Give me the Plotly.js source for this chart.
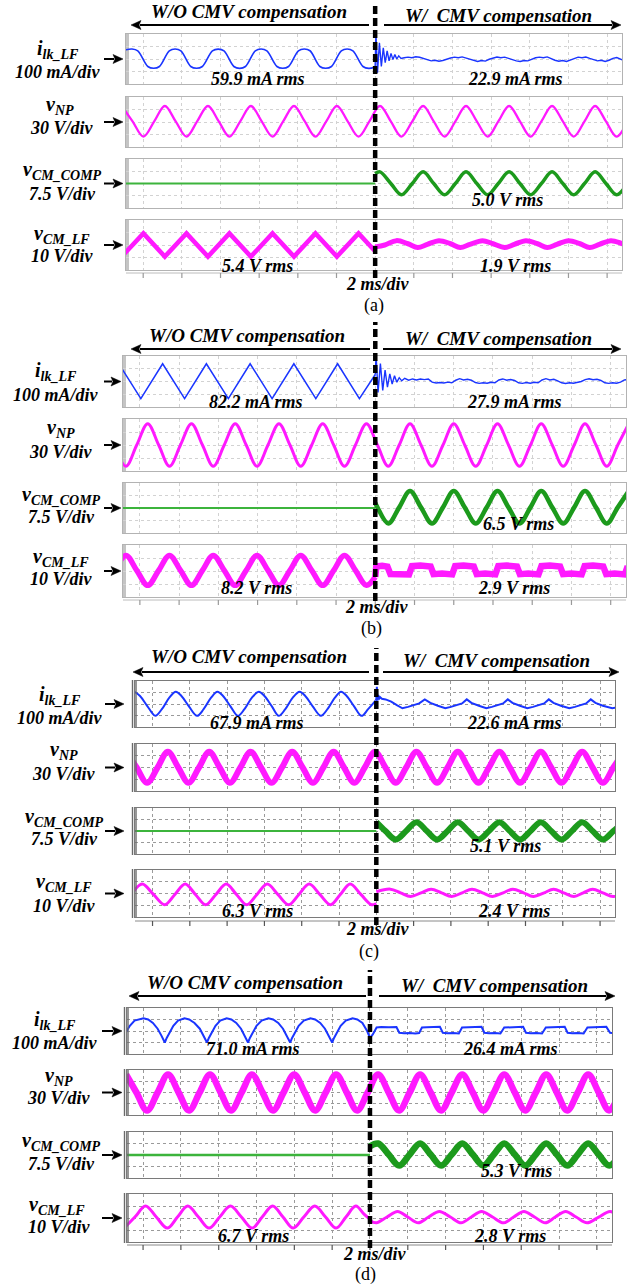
<!DOCTYPE html>
<html><head><meta charset="utf-8">
<script src="https://cdn.plot.ly/plotly-3.0.1.min.js"></script>
<style>html,body{margin:0;padding:0;background:#fff}#chart{width:642px;height:1288px}</style>
</head><body><div id="chart"></div>
<script>
// ---------------- DATA (time in ms, value in divisions) ----------------
// Panel (a)
const A1L = [[-1.0,0.7],[-0.58,0.8],[-0.28,0.65],[0.24,-0.6],[0.54,-0.74],[0.84,-0.6],[1.35,0.65],[1.65,0.8],[1.95,0.65],[2.46,-0.6],[2.76,-0.74],[3.06,-0.6],[3.58,0.65],[3.88,0.79],[4.18,0.65],[4.69,-0.6],[4.99,-0.75],[5.29,-0.6],[5.80,0.65],[6.10,0.8],[6.40,0.65],[6.92,-0.6],[7.22,-0.74],[7.52,-0.6],[8.03,0.65],[8.33,0.8],[8.63,0.66],[9.14,-0.6],[9.44,-0.74],[9.74,-0.6],[10.25,0.65],[10.55,0.8],[10.85,0.65],[11.37,-0.6],[11.67,-0.75],[11.97,-0.65]];
const A1R = [[11.97,-0.65],[12.0,-0.6],[12.04,2.1],[12.12,-1.1],[12.22,1.3],[12.32,-0.6],[12.42,0.9],[12.52,-0.3],[12.62,0.65],[12.72,-0.15],[12.82,0.45],[12.92,-0.05],[13.02,0.35],[13.12,0.0],[13.22,0.25],[13.34,0.05],[13.5,0.1],[13.7,0.15],[13.9,0.1],[14.1,0.18],[14.3,0.14],[14.5,0.05],[14.7,-0.05],[14.9,-0.15],[15.1,-0.1],[15.3,-0.18],[15.5,-0.12],[15.7,0.0],[15.9,0.08],[16.1,0.15],[16.3,0.1],[16.5,0.17],[16.7,0.08],[16.9,-0.05],[17.1,-0.12],[17.3,-0.2],[17.5,-0.12],[17.7,-0.17],[17.9,-0.02],[18.1,0.08],[18.3,0.16],[18.5,0.1],[18.7,0.15],[18.9,0.05],[19.1,-0.08],[19.3,-0.15],[19.5,-0.2],[19.7,-0.12],[19.9,-0.15],[20.1,0.0],[20.3,0.1],[20.5,0.15],[20.7,0.1],[20.9,0.17],[21.1,0.02],[21.3,-0.1],[21.5,-0.18],[21.7,-0.12],[21.9,-0.2],[22.1,-0.08],[22.3,0.08],[22.5,0.15],[22.7,0.1],[22.9,0.16],[23.1,0.05],[23.3,-0.08],[23.5,-0.15],[23.7,-0.1],[23.9,-0.2],[24.1,-0.1],[24.3,0.05],[24.5,0.12],[24.7,-0.05],[24.9,-0.15]];
const A2 = [[-1.11,1.28],[-0.55,0.05],[0.01,-1.17],[0.57,0.05],[1.12,1.28],[1.68,0.05],[2.24,-1.17],[2.79,0.05],[3.35,1.28],[3.91,0.05],[4.46,-1.17],[5.02,0.05],[5.57,1.28],[6.13,0.05],[6.69,-1.17],[7.24,0.05],[7.80,1.28],[8.36,0.05],[8.91,-1.17],[9.47,0.05],[10.02,1.28],[10.58,0.05],[11.14,-1.17],[11.70,0.05],[12.25,1.28],[12.81,0.05],[13.36,-1.17],[13.92,0.05],[14.48,1.28],[15.03,0.05],[15.59,-1.17],[16.15,0.05],[16.70,1.28],[17.26,0.05],[17.82,-1.17],[18.37,0.05],[18.93,1.28],[19.49,0.05],[20.04,-1.17],[20.60,0.05],[21.15,1.28],[21.71,0.05],[22.27,-1.17],[22.83,0.05],[23.38,1.28],[23.94,0.05],[24.49,-1.17],[25.05,0.05]];
const A3L = [[-1.0,0],[12.0,0]];
const A3R = [[12.0,0.8],[12.25,0.95],[12.81,0],[13.36,-0.92],[13.92,0],[14.48,0.95],[15.03,0],[15.59,-0.92],[16.15,0],[16.70,0.95],[17.26,0],[17.82,-0.92],[18.37,0],[18.93,0.95],[19.49,0],[20.04,-0.92],[20.60,0],[21.15,0.95],[21.71,0],[22.27,-0.92],[22.83,0],[23.38,0.95],[23.94,0],[24.49,-0.92],[25.05,0]];
const A4L = [[-1.11,-0.93],[0.01,0.93],[1.12,-0.93],[2.24,0.93],[3.35,-0.93],[4.46,0.93],[5.57,-0.93],[6.69,0.93],[7.80,-0.93],[8.91,0.93],[10.02,-0.93],[11.14,0.93],[12.0,-0.5]];
const A4R = [[12.0,-0.15],[12.5,0.0],[13.1,0.35],[13.7,0.1],[14.2,-0.2],[14.7,0.05],[15.3,0.35],[15.9,0.1],[16.4,-0.2],[16.9,0.05],[17.55,0.35],[18.1,0.1],[18.7,-0.2],[19.2,0.05],[19.8,0.35],[20.4,0.1],[20.9,-0.2],[21.4,0.05],[22.0,0.35],[22.6,0.1],[23.1,-0.2],[23.6,0.05],[24.2,0.35],[24.8,0.1],[25.2,-0.1]];
// Panel (b)
const B1L = [[-1.07,1.39],[0.05,-1.34],[1.16,1.39],[2.28,-1.34],[3.39,1.39],[4.51,-1.34],[5.62,1.39],[6.74,-1.34],[7.85,1.39],[8.97,-1.34],[10.08,1.39],[11.19,-1.34],[12.0,0.55]];
const B1R = [[12.0,0.55],[12.04,2.1],[12.14,-0.85],[12.26,1.4],[12.38,-0.7],[12.5,0.9],[12.62,-0.45],[12.74,0.6],[12.86,-0.2],[12.98,0.45],[13.1,-0.05],[13.22,0.3],[13.35,0.05],[13.5,0.25],[13.7,0.1],[13.9,0.2],[14.1,0.12],[14.3,0.2],[14.5,0.15],[14.7,0.2],[14.9,-0.05],[15.1,-0.12],[15.3,-0.08],[15.5,-0.12],[15.7,-0.05],[15.9,-0.1],[16.1,0.1],[16.3,0.22],[16.5,0.12],[16.7,0.18],[16.9,0.1],[17.1,-0.08],[17.3,-0.15],[17.5,-0.1],[17.7,-0.14],[17.9,-0.06],[18.1,-0.1],[18.3,0.12],[18.5,0.2],[18.7,0.1],[18.9,0.16],[19.1,0.08],[19.3,-0.1],[19.5,-0.15],[19.7,-0.08],[19.9,-0.14],[20.1,-0.06],[20.3,-0.1],[20.5,0.12],[20.7,0.22],[20.9,0.12],[21.1,0.17],[21.3,0.05],[21.5,-0.1],[21.7,-0.16],[21.9,-0.1],[22.1,-0.14],[22.3,-0.06],[22.5,0.0],[22.7,0.15],[22.9,0.22],[23.1,0.14],[23.3,0.18],[23.5,0.08],[23.7,-0.1],[23.9,-0.15],[24.1,-0.1],[24.3,-0.14],[24.5,-0.05],[24.7,0.12],[24.9,0.18]];
const B2 = [[-1.27,0],[-0.71,-1.64],[-0.16,0],[0.40,1.64],[0.96,0],[1.51,-1.64],[2.07,0],[2.63,1.64],[3.19,0],[3.74,-1.64],[4.30,0],[4.86,1.64],[5.42,0],[5.97,-1.64],[6.53,0],[7.09,1.64],[7.65,0],[8.20,-1.64],[8.76,0],[9.32,1.64],[9.88,0],[10.43,-1.64],[10.99,0],[11.55,1.64],[12.11,0],[12.66,-1.64],[13.22,0],[13.77,1.64],[14.33,0],[14.89,-1.64],[15.45,0],[16.00,1.64],[16.56,0],[17.12,-1.64],[17.68,0],[18.23,1.64],[18.79,0],[19.35,-1.64],[19.91,0],[20.46,1.64],[21.02,0],[21.58,-1.64],[22.14,0],[22.69,1.64],[23.25,0],[23.80,-1.64],[24.36,0],[24.92,1.64]];
const B3L = [[-1.0,0],[12.0,0]];
const B3R = [[12.0,0.4],[12.11,0.05],[12.66,-1.23],[13.22,0.05],[13.77,1.36],[14.33,0.05],[14.89,-1.23],[15.45,0.05],[16.00,1.36],[16.56,0.05],[17.12,-1.23],[17.68,0.05],[18.23,1.36],[18.79,0.05],[19.35,-1.23],[19.91,0.05],[20.46,1.36],[21.02,0.05],[21.58,-1.23],[22.14,0.05],[22.69,1.36],[23.25,0.05],[23.80,-1.23],[24.36,0.05],[24.92,1.36]];
const B4L = [[-1.27,0.05],[-0.71,1.2],[-0.16,0.05],[0.40,-1.1],[0.96,0.05],[1.51,1.2],[2.07,0.05],[2.63,-1.1],[3.19,0.05],[3.74,1.2],[4.30,0.05],[4.86,-1.1],[5.42,0.05],[5.97,1.2],[6.53,0.05],[7.09,-1.1],[7.65,0.05],[8.20,1.2],[8.76,0.05],[9.32,-1.1],[9.88,0.05],[10.43,1.2],[10.99,0.05],[11.55,-1.1],[12.0,-0.45]];
const B4R = [[12.0,-0.45],[12.05,0.35],[12.35,0.4],[12.62,0.34],[12.77,-0.24],[13.2,-0.2],[13.72,-0.26],[13.87,0.37],[14.3,0.42],[14.82,0.35],[14.97,-0.24],[15.4,-0.2],[15.92,-0.26],[16.07,0.37],[16.5,0.42],[17.02,0.35],[17.17,-0.24],[17.6,-0.2],[18.12,-0.26],[18.27,0.37],[18.7,0.42],[19.22,0.35],[19.37,-0.24],[19.8,-0.2],[20.32,-0.26],[20.47,0.37],[20.9,0.42],[21.42,0.35],[21.57,-0.24],[22.0,-0.2],[22.52,-0.26],[22.67,0.37],[23.1,0.42],[23.62,0.35],[23.77,-0.24],[24.2,-0.2],[24.72,-0.26],[24.87,0.37]];
// Panel (c)
const C1L = [[-0.97,1.06],[-0.67,0.7],[-0.27,-0.2],[0.15,-1.03],[0.5,-0.45],[0.9,0.55],[1.25,1.06],[1.55,0.7],[1.95,-0.2],[2.39,-1.03],[2.74,-0.45],[3.14,0.55],[3.48,1.06],[3.78,0.7],[4.18,-0.2],[4.58,-1.03],[4.93,-0.45],[5.33,0.55],[5.70,1.06],[6.0,0.7],[6.4,-0.2],[6.77,-1.03],[7.12,-0.45],[7.52,0.55],[7.89,1.06],[8.19,0.7],[8.59,-0.2],[9.03,-1.03],[9.38,-0.45],[9.78,0.55],[10.11,1.06],[10.41,0.7],[10.81,-0.2],[11.21,-1.03],[11.56,-0.45],[11.96,0.3]];
const C1R = [[11.96,0.3],[12.0,0.4],[12.03,1.5],[12.06,0.3],[12.1,0.8],[12.14,0.4],[12.2,0.6],[12.3,0.45],[12.5,0.4],[12.8,0.2],[13.1,-0.1],[13.4,-0.37],[13.7,-0.25],[14.0,-0.1],[14.3,0.05],[14.6,0.4],[14.9,0.1],[15.3,-0.15],[15.7,-0.37],[16.0,-0.25],[16.3,-0.1],[16.6,0.05],[16.85,0.4],[17.1,0.1],[17.5,-0.15],[17.9,-0.37],[18.2,-0.25],[18.5,-0.1],[18.8,0.05],[19.05,0.4],[19.3,0.1],[19.7,-0.15],[20.1,-0.37],[20.4,-0.25],[20.7,-0.1],[21.0,0.05],[21.25,0.4],[21.5,0.1],[21.9,-0.15],[22.35,-0.37],[22.65,-0.25],[22.95,-0.1],[23.25,0.05],[23.5,0.4],[23.75,0.1],[24.15,-0.15],[24.65,-0.37],[24.9,-0.3]];
const C2 = [[-1.40,1.35],[-0.85,0],[-0.29,-1.3],[0.27,0],[0.82,1.35],[1.38,0],[1.93,-1.3],[2.49,0],[3.04,1.35],[3.60,0],[4.15,-1.3],[4.71,0],[5.26,1.35],[5.82,0],[6.38,-1.3],[6.94,0],[7.49,1.35],[8.05,0],[8.60,-1.3],[9.16,0],[9.71,1.35],[10.27,0],[10.82,-1.3],[11.38,0],[11.93,1.35],[12.49,0],[13.04,-1.3],[13.60,0],[14.15,1.35],[14.71,0],[15.26,-1.3],[15.82,0],[16.37,1.35],[16.93,0],[17.48,-1.3],[18.04,0],[18.60,1.35],[19.16,0],[19.71,-1.3],[20.27,0],[20.82,1.35],[21.38,0],[21.93,-1.3],[22.49,0],[23.04,1.35],[23.60,0],[24.15,-1.3],[24.71,0],[25.26,1.35]];
const C3L = [[-1.0,0],[12.0,0]];
const C3R = [[12.0,0.77],[12.49,0],[13.04,-0.74],[13.60,0],[14.15,0.77],[14.71,0],[15.26,-0.74],[15.82,0],[16.37,0.77],[16.93,0],[17.48,-0.74],[18.04,0],[18.60,0.77],[19.16,0],[19.71,-0.74],[20.27,0],[20.82,0.77],[21.38,0],[21.93,-0.74],[22.49,0],[23.04,0.77],[23.60,0],[24.15,-0.74],[24.71,0],[25.26,0.77]];
const C4L = [[-1.1,0],[-0.55,0.8],[0.05,-0.08],[0.65,-0.96],[1.2,-0.08],[1.75,0.8],[2.3,-0.08],[2.85,-0.96],[3.4,-0.08],[3.95,0.8],[4.5,-0.08],[5.05,-0.96],[5.6,-0.08],[6.15,0.8],[6.72,-0.08],[7.3,-0.96],[7.85,-0.08],[8.4,0.8],[8.97,-0.08],[9.55,-0.96],[10.07,-0.08],[10.6,0.8],[11.17,-0.08],[11.75,-0.96],[12.0,-0.85]];
const C4R = [[12.0,0.15],[12.75,0.37],[13.3,0.06],[13.84,-0.25],[14.4,0.06],[14.94,0.37],[15.5,0.06],[16.04,-0.25],[16.6,0.06],[17.13,0.37],[17.7,0.06],[18.23,-0.25],[18.8,0.06],[19.32,0.37],[19.9,0.06],[20.42,-0.25],[21.0,0.06],[21.5,0.37],[22.05,0.06],[22.6,-0.25],[23.1,0.06],[23.6,0.37],[24.15,0.06],[24.7,-0.25],[25.2,0.06]];
// Panel (d)
const D1L = [[-1.15,-1.0],[-1.05,-0.6],[-0.9,-0.1],[-0.7,0.45],[-0.45,0.9],[0.02,1.1],[0.27,1.0],[0.52,0.7],[0.77,0.2],[0.97,-0.4],[1.15,-1.0],[1.25,-0.6],[1.4,-0.1],[1.6,0.45],[1.85,0.9],[2.19,1.1],[2.44,1.0],[2.72,0.7],[3.0,0.2],[3.2,-0.4],[3.38,-1.0],[3.48,-0.6],[3.63,-0.1],[3.83,0.45],[4.08,0.9],[4.42,1.1],[4.67,1.0],[4.93,0.7],[5.18,0.2],[5.37,-0.4],[5.55,-1.0],[5.65,-0.6],[5.8,-0.1],[6.0,0.45],[6.27,0.9],[6.63,1.1],[6.88,1.0],[7.15,0.7],[7.4,0.2],[7.6,-0.4],[7.78,-1.0],[7.88,-0.6],[8.03,-0.1],[8.23,0.45],[8.5,0.9],[8.85,1.1],[9.1,1.0],[9.37,0.7],[9.62,0.2],[9.82,-0.4],[10.0,-1.0],[10.1,-0.6],[10.25,-0.1],[10.45,0.45],[10.72,0.9],[11.08,1.1],[11.33,1.0],[11.6,0.7],[11.85,0.0],[12.0,-0.6]];
const D1R = [[12.0,-0.6],[12.15,-0.3],[12.35,0.3],[12.6,0.35],[13.0,0.33],[13.4,0.35],[13.55,-0.15],[13.8,-0.2],[14.1,-0.17],[14.4,-0.22],[14.6,-0.18],[14.75,0.3],[15.0,0.33],[15.4,0.32],[15.7,0.36],[15.85,-0.15],[16.1,-0.2],[16.4,-0.18],[16.7,-0.22],[16.87,0.3],[17.2,0.33],[17.6,0.32],[17.9,0.36],[18.05,-0.15],[18.3,-0.2],[18.6,-0.17],[18.9,-0.22],[19.1,0.3],[19.4,0.33],[19.8,0.32],[20.1,0.36],[20.25,-0.15],[20.5,-0.2],[20.8,-0.17],[21.1,-0.22],[21.3,0.3],[21.6,0.33],[22.0,0.32],[22.3,0.36],[22.45,-0.15],[22.7,-0.2],[23.0,-0.17],[23.3,-0.22],[23.5,0.3],[23.8,0.33],[24.2,0.32],[24.5,0.36],[24.7,-0.15],[24.9,-0.2]];
const D2 = [[-0.90,1.6],[-0.35,0],[0.21,-1.6],[0.77,0],[1.32,1.6],[1.88,0],[2.43,-1.6],[2.99,0],[3.54,1.6],[4.10,0],[4.65,-1.6],[5.21,0],[5.76,1.6],[6.32,0],[6.87,-1.6],[7.43,0],[7.99,1.6],[8.55,0],[9.10,-1.6],[9.66,0],[10.21,1.6],[10.77,0],[11.32,-1.6],[11.88,0],[12.43,1.6],[12.99,0],[13.54,-1.6],[14.10,0],[14.65,1.6],[15.21,0],[15.76,-1.6],[16.32,0],[16.88,1.6],[17.44,0],[17.99,-1.6],[18.55,0],[19.10,1.6],[19.66,0],[20.21,-1.6],[20.77,0],[21.32,1.6],[21.88,0],[22.43,-1.6],[22.99,0],[23.54,1.6],[24.10,0],[24.65,-1.6],[25.21,0]];
const D3L = [[-1.0,0],[12.0,0]];
const D3R = [[12.0,0.75],[12.43,1.0],[12.99,0.04],[13.54,-0.92],[14.10,0.04],[14.65,1.0],[15.21,0.04],[15.76,-0.92],[16.32,0.04],[16.88,1.0],[17.44,0.04],[17.99,-0.92],[18.55,0.04],[19.10,1.0],[19.66,0.04],[20.21,-0.92],[20.77,0.04],[21.32,1.0],[21.88,0.04],[22.43,-0.92],[22.99,0.04],[23.54,1.0],[24.10,0.04],[24.65,-0.92],[25.21,0.04]];
const D4L = [[-1.0,-0.84],[-0.43,0.08],[0.13,1.0],[0.7,0.08],[1.28,-0.84],[1.82,0.08],[2.36,1.0],[2.93,0.08],[3.49,-0.84],[4.05,0.08],[4.62,1.0],[5.2,0.08],[5.77,-0.84],[6.3,0.08],[6.85,1.0],[7.4,0.08],[7.94,-0.84],[8.5,0.08],[9.08,1.0],[9.65,0.08],[10.21,-0.84],[10.73,0.08],[11.25,1.0],[11.7,0.3],[12.0,-0.1]];
const D4R = [[12.0,-0.2],[12.34,-0.4],[12.9,0.08],[13.46,0.55],[14.0,0.08],[14.55,-0.4],[15.1,0.08],[15.67,0.55],[16.25,0.08],[16.82,-0.4],[17.36,0.08],[17.9,0.55],[18.48,0.08],[19.06,-0.4],[19.6,0.08],[20.14,0.55],[20.7,0.08],[21.27,-0.4],[21.8,0.08],[22.35,0.55],[22.9,0.08],[23.48,-0.4],[24.1,0.08],[24.7,0.55],[25.2,0.1]];

// Text content
const stripSymbols = ['i<sub>lk_LF</sub>', 'v<sub>NP</sub>', 'v<sub>CM_COMP</sub>', 'v<sub>CM_LF</sub>'];
const stripScales = ['100 mA/div', '30 V/div', '7.5 V/div', '10 V/div'];
const headerLeft = 'W/O CMV compensation';
const headerRight = 'W/\u00a0 CMV compensation';
const timeScale = '2 ms/div';
const panelTags = ['(a)', '(b)', '(c)', '(d)'];
const rmsA = ['59.9 mA rms', '22.9 mA rms', '5.0 V rms', '5.4 V rms', '1.9 V rms'];
const rmsB = ['82.2 mA rms', '27.9 mA rms', '6.5 V rms', '8.2 V rms', '2.9 V rms'];
const rmsC = ['67.9 mA rms', '22.6 mA rms', '5.1 V rms', '6.3 V rms', '2.4 V rms'];
const rmsD = ['71.0 mA rms', '26.4 mA rms', '5.3 V rms', '6.7 V rms', '2.8 V rms'];
const gridTimes = [0, 2, 4, 6, 8, 10, 12, 14, 16, 18, 20, 22, 24];
const switchTime = 12;

// ---------------- LAYOUT / STYLE ----------------
const W = 642, H = 1288;
const FONT = 'Liberation Serif';
const BLUE = '#1a35ff', MAG = '#ff19ff', GLIGHT = '#3cb43c', GDARK = '#1c9a1c';
const fx = p => p / W, fy = p => 1 - p / H;

const panels = [
  { segs: [[[A1L, BLUE, 1.6, 'spline'], [A1R, BLUE, 1.4, 'linear']], [[A2, MAG, 2.3, 'spline']], [[A3L, GLIGHT, 2, 'linear'], [A3R, GDARK, 3.5, 'spline']], [[A4L, MAG, 4.5, 'linear'], [A4R, MAG, 5, 'spline']]],
    rms: rmsA, tag: panelTags[0], xd: [126, 622], xr: [-0.89, 24.77], ys: [[34, 84], [97, 147], [159, 208], [220, 270]], dark: false,
    hdr: [[249, 12], [498, 15]], arrY: 25, arrL: [131, 369], arrR: [384, 621],
    rmsPos: [[258, 79], [515, 79], [507, 200], [257, 266], [515, 266]], msPos: [378, 284], tagPos: [374, 305],
    symPos: [[58, 49], [60, 105], [62, 171], [62, 235]], sclPos: [[58, 72], [62, 128], [62, 194], [62, 256]],
    arrowX: [104, 123], dashY: [2, 278], tickY: 273 },
  { segs: [[[B1L, BLUE, 1.5, 'linear'], [B1R, BLUE, 1.4, 'linear']], [[B2, MAG, 3, 'spline']], [[B3L, GLIGHT, 2, 'linear'], [B3R, GDARK, 4.5, 'spline']], [[B4L, MAG, 5.5, 'spline'], [B4R, MAG, 6.5, 'linear']]],
    rms: rmsB, tag: panelTags[1], xd: [123, 626], xr: [-0.86, 24.78], ys: [[356, 407], [419, 471], [483, 533], [545, 597]], dark: false,
    hdr: [[247, 335], [498, 338]], arrY: 349, arrL: [131, 370], arrR: [383, 621],
    rmsPos: [[256, 402], [514, 402], [518, 524], [256, 588], [514, 588]], msPos: [377, 607], tagPos: [371, 628],
    symPos: [[56, 371], [61, 428], [61, 495], [61, 557]], sclPos: [[56, 395], [61, 452], [61, 517], [61, 579]],
    arrowX: [104, 121], dashY: [322, 601], tickY: 600 },
  { segs: [[[C1L, BLUE, 2, 'spline'], [C1R, BLUE, 2, 'linear']], [[C2, MAG, 6, 'spline']], [[C3L, GLIGHT, 2.2, 'linear'], [C3R, GDARK, 6, 'spline']], [[C4L, MAG, 3, 'spline'], [C4R, MAG, 3, 'spline']]],
    rms: rmsC, tag: panelTags[2], xd: [135, 615], xr: [-0.94, 24.8], ys: [[681, 727], [744, 791], [808, 854], [870, 917]], dark: true,
    hdr: [[249, 656], [496, 660]], arrY: 672, arrL: [133, 369], arrR: [383, 619],
    rmsPos: [[257, 723], [514, 723], [505, 846], [257, 911], [514, 911]], msPos: [378, 929], tagPos: [369, 952],
    symPos: [[60, 695], [64, 750], [64, 817], [64, 882]], sclPos: [[60, 718], [64, 774], [64, 839], [64, 906]],
    arrowX: [105, 124], dashY: [648, 925], tickY: 921 },
  { segs: [[[D1L, BLUE, 2, 'linear'], [D1R, BLUE, 2, 'linear']], [[D2, MAG, 6.5, 'spline']], [[D3L, GLIGHT, 2.5, 'linear'], [D3R, GDARK, 6.5, 'spline']], [[D4L, MAG, 3, 'spline'], [D4R, MAG, 3, 'spline']]],
    rms: rmsD, tag: panelTags[3], xd: [127, 612], xr: [-0.85, 24.8], ys: [[1008, 1054], [1070, 1115], [1132, 1178], [1194, 1242]], dark: true,
    hdr: [[245, 982], [494, 985]], arrY: 996, arrL: [129, 366], arrR: [379, 615],
    rmsPos: [[253, 1049], [510, 1049], [516, 1171], [253, 1236], [510, 1236]], msPos: [375, 1254], tagPos: [366, 1274],
    symPos: [[55, 1020], [59, 1076], [61, 1141], [57, 1205]], sclPos: [[55, 1043], [59, 1098], [61, 1164], [59, 1227]],
    arrowX: [102, 122], dashY: [970, 1248], tickY: 1245 }
];

const traces = [], shapes = [], annotations = [];
const layout = { width: W, height: H, margin: { l: 0, r: 0, t: 0, b: 0 }, paper_bgcolor: '#fff', plot_bgcolor: 'rgba(0,0,0,0)', showlegend: false, shapes, annotations };

function txt(text, p, size, bold, italic) {
  let t = text;
  if (italic) t = '<i>' + t + '</i>';
  if (bold) t = '<b>' + t + '</b>';
  return { xref: 'paper', yref: 'paper', x: fx(p[0]), y: fy(p[1]), text: t, showarrow: false, xanchor: 'center', yanchor: 'middle', font: { family: FONT, size: size, color: '#000' } };
}
// arrow drawn as shapes: shaft + filled head, head at headX
function arrowShapes(tailX, headX, y, w) {
  const dir = headX > tailX ? 1 : -1, L = 10, hw = 4.5;
  const baseX = headX - dir * L;
  shapes.push({ type: 'line', xref: 'paper', yref: 'paper', x0: fx(tailX), x1: fx(baseX + dir * 1), y0: fy(y), y1: fy(y), line: { color: '#000', width: w } });
  shapes.push({ type: 'path', xref: 'paper', yref: 'paper', path: 'M ' + fx(headX) + ' ' + fy(y) + ' L ' + fx(baseX) + ' ' + fy(y - hw) + ' L ' + fx(baseX + dir * 2) + ' ' + fy(y) + ' L ' + fx(baseX) + ' ' + fy(y + hw) + ' Z', fillcolor: '#000', line: { color: '#000', width: 0.5 } });
}

let k = 0;
panels.forEach(P => {
  const boxCol = P.dark ? '#7a7a7a' : '#b3b3b3';
  const gridCol = P.dark ? '#9a9a9a' : '#d2d2d2';
  P.ys.forEach((yy, s) => {
    k += 1;
    const xn = k === 1 ? 'xaxis' : 'xaxis' + k, yn = k === 1 ? 'yaxis' : 'yaxis' + k;
    const xid = k === 1 ? 'x' : 'x' + k, yid = k === 1 ? 'y' : 'y' + k;
    layout[xn] = { domain: [fx(P.xd[0]), fx(P.xd[1])], range: P.xr, anchor: yid, tickvals: gridTimes, showticklabels: false, ticks: '', showgrid: true, gridcolor: gridCol, griddash: 'dot', gridwidth: 1, zeroline: false, showline: true, mirror: true, linecolor: boxCol, linewidth: 1.2, fixedrange: true };
    layout[yn] = { domain: [fy(yy[1]), fy(yy[0])], range: [-2, 2], anchor: xid, tickvals: [-1, 0, 1], showticklabels: false, ticks: '', showgrid: true, gridcolor: gridCol, griddash: 'dot', gridwidth: 1, zeroline: false, showline: true, mirror: true, linecolor: boxCol, linewidth: 1.2, fixedrange: true };
    P.segs[s].forEach(seg => {
      const d = seg[0];
      traces.push({ x: d.map(p => p[0]), y: d.map(p => p[1]), xaxis: xid, yaxis: yid, type: 'scatter', mode: 'lines', hoverinfo: 'skip', line: { color: seg[1], width: seg[2], shape: seg[3], smoothing: 1 } });
    });
    if (!P.dark) {
      shapes.push({ type: 'rect', xref: 'paper', yref: 'paper', x0: fx(P.xd[0] - 0.5), x1: fx(P.xd[0] + 3), y0: fy(yy[1]), y1: fy(yy[0]), fillcolor: '#c4c4c4', line: { width: 0 }, layer: 'below' });
    } else {
      shapes.push({ type: 'line', xref: 'paper', yref: 'paper', x0: fx(P.xd[0] - 2.5), x1: fx(P.xd[0] - 2.5), y0: fy(yy[1] + 1), y1: fy(yy[0] - 1), line: { color: '#6a6a6a', width: 1.4 } });
      shapes.push({ type: 'line', xref: 'paper', yref: 'paper', x0: fx(P.xd[0] + 1), x1: fx(P.xd[0] + 1), y0: fy(yy[1]), y1: fy(yy[0]), line: { color: '#6a6a6a', width: 1.4 } });
    }
    annotations.push(txt(stripSymbols[s], P.symPos[s], 20, true, true));
    annotations.push(txt(stripScales[s], P.sclPos[s], 18, true, true));
    const yc = (yy[0] + yy[1]) / 2;
    arrowShapes(P.arrowX[0], P.arrowX[1], yc, 2);
  });
  const xref4 = 'x' + k;
  shapes.push({ type: 'line', xref: xref4, yref: 'paper', x0: P.xr[0], x1: P.xr[1], y0: fy(P.tickY), y1: fy(P.tickY), line: { color: P.dark ? '#8a8a8a' : '#bcbcbc', width: 1 } });
  gridTimes.forEach(t => shapes.push({ type: 'line', xref: xref4, yref: 'paper', x0: t, x1: t, y0: fy(P.tickY), y1: fy(P.tickY + 5), line: { color: P.dark ? '#555' : '#9a9a9a', width: 1.2 } }));
  shapes.push({ type: 'line', xref: xref4, yref: 'paper', x0: switchTime, x1: switchTime, y0: fy(P.dashY[1]), y1: fy(P.dashY[0]), line: { color: '#000', width: 4.5, dash: '8px,4px' }, layer: 'above' });
  annotations.push(txt(headerLeft, P.hdr[0], 19, true, true));
  annotations.push(txt(headerRight, P.hdr[1], 19, true, true));
  arrowShapes(P.arrL[1], P.arrL[0], P.arrY, 2);
  arrowShapes(P.arrR[0], P.arrR[1], P.arrY, 2);
  P.rms.forEach((r, i) => annotations.push(txt(r, P.rmsPos[i], 18, true, true)));
  annotations.push(txt(timeScale, P.msPos, 18, true, true));
  annotations.push(txt(P.tag, P.tagPos, 18, false, false));
});

Plotly.newPlot('chart', traces, layout, { staticPlot: true, displayModeBar: false });
</script></body></html>
